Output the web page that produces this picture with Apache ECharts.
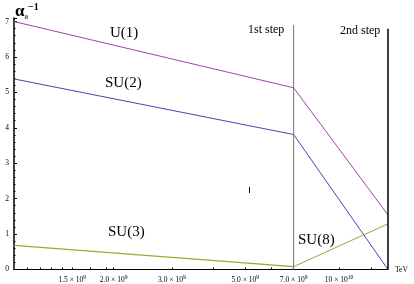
<!DOCTYPE html>
<html><head><meta charset="utf-8">
<script src="https://cdn.jsdelivr.net/npm/echarts@6/dist/echarts.min.js"></script>
<style>html,body{margin:0;padding:0;background:#fff}#c{width:414px;height:284px}</style>
</head><body><div id="c"></div>
<script>
// Energies (log scale axis), break points: start, 1st step, 2nd step
const energies = [1.0e9, 7.0e9, 1.35e10];
const u1 = [7.0, 5.13, 1.54];
const su2 = [5.38, 3.81, 0.0];
const su3Energies = [1.0e9, 7.0e9];
const su3 = [0.68, 0.08];
const su8Energies = [7.0e9, 1.35e10];
const su8 = [0.08, 1.29];
const stepEnergies = [7.0e9, 1.35e10];
const stepTops = [6.9, 6.8];
// x tick labels (mantissa, exponent) and where they sit
const xTickPos = [1.5e9, 2.0e9, 3.0e9, 5.0e9, 7.0e9, 9.6e9];
const xTickMant = ['1.5', '2.0', '3.0', '5.0', '7.0', '10'];
const xTickExp = ['9', '9', '9', '9', '9', '10'];
const xMinorTicks = [1.1e9,1.2e9,1.3e9,1.4e9,1.7e9,1.9e9,4.0e9,6.0e9,1.2e10];
const yTicks = [0,1,2,3,4,5,6,7];

const L = Math.log10;
const pairs = (xs, ys) => xs.map((x, i) => [L(x), ys[i]]);
const SERIF = '"Liberation Serif", "DejaVu Serif", serif';

const chart = echarts.init(document.getElementById('c'));
const labelPos = xTickPos.map(L);
const tickPos = xTickPos.concat(xMinorTicks).map(L);

chart.setOption({
  animation: false,
  grid: { left: 14, right: 26, top: 18, bottom: 14.5, containLabel: false },
  xAxis: {
    type: 'value', min: L(1.0e9), max: L(1.35e10),
    axisLine: { show: true, onZero: false, lineStyle: { color: '#000', width: 1 } },
    splitLine: { show: false },
    axisTick: { show: true, inside: true, length: 2, lineStyle: { color: '#000' }, customValues: tickPos },
    axisLabel: {
      show: true, customValues: labelPos, margin: 5,
      formatter: function (v) {
        let k = 0, best = 1e9;
        labelPos.forEach((p, i) => { if (Math.abs(p - v) < best) { best = Math.abs(p - v); k = i; } });
        return xTickMant[k] + ' × 10{s|' + xTickExp[k] + '}';
      },
      fontFamily: SERIF, fontSize: 7.5, color: '#000',
      rich: { s: { fontSize: 5.5, verticalAlign: 'top', padding: [0, 0, 5, 0], fontFamily: SERIF, color: '#000' } }
    }
  },
  yAxis: {
    type: 'value', min: 0, max: 7.1, interval: 1,
    axisLine: { show: true, lineStyle: { color: '#000', width: 1.5 } },
    splitLine: { show: false },
    axisTick: { show: true, inside: true, length: 3, lineStyle: { color: '#000' } },
    minorTick: { show: true, splitNumber: 5, length: 1.5, lineStyle: { color: '#000' } },
    axisLabel: {
      margin: 5, fontFamily: SERIF, fontSize: 7.5, color: '#000',
      formatter: v => (yTicks.indexOf(v) >= 0 ? String(v) : '')
    }
  },
  series: [
    { type: 'line', data: pairs(energies, u1), symbol: 'none', lineStyle: { color: '#a33fab', width: 1 } },
    { type: 'line', data: pairs(energies, su2), symbol: 'none', lineStyle: { color: '#4646bb', width: 1 } },
    { type: 'line', data: pairs(su3Energies, su3), symbol: 'none', lineStyle: { color: '#a3a335', width: 1.2 } },
    { type: 'line', data: pairs(su8Energies, su8), symbol: 'none', lineStyle: { color: '#a3a335', width: 1 } },
    { type: 'line', data: [[L(stepEnergies[0]), 0], [L(stepEnergies[0]), stepTops[0]]], symbol: 'none', lineStyle: { color: '#777', width: 1 } },
    { type: 'line', data: [[L(stepEnergies[1]), 0], [L(stepEnergies[1]), stepTops[1]]], symbol: 'none', lineStyle: { color: '#000', width: 1.5 } }
  ],
  graphic: [
    { type: 'text', left: 110, top: 26, style: { text: 'U(1)', font: '15px ' + SERIF, fill: '#000' } },
    { type: 'text', left: 105, top: 76, style: { text: 'SU(2)', font: '15px ' + SERIF, fill: '#000' } },
    { type: 'text', left: 108, top: 225, style: { text: 'SU(3)', font: '15px ' + SERIF, fill: '#000' } },
    { type: 'text', left: 298, top: 233, style: { text: 'SU(8)', font: '15px ' + SERIF, fill: '#000' } },
    { type: 'text', left: 248, top: 24, style: { text: '1st step', font: '12px ' + SERIF, fill: '#000' } },
    { type: 'text', left: 340, top: 25, style: { text: '2nd step', font: '12px ' + SERIF, fill: '#000' } },
    { type: 'text', left: 395, top: 266, style: { text: 'TeV', font: '7.5px ' + SERIF, fill: '#000' } },
    { type: 'text', left: 15, top: 2, style: {
        text: '{a|α}{b|a}{c|−1}', fill: '#000',
        rich: {
          a: { font: 'bold 17px ' + SERIF, fill: '#000' },
          b: { font: '8px ' + SERIF, fill: '#000', verticalAlign: 'bottom', padding: [9, 0, 0, 0] },
          c: { font: 'bold 10px ' + SERIF, fill: '#000', verticalAlign: 'top', padding: [0, 0, 9, 0] }
        } } },
    { type: 'rect', shape: { x: 249, y: 187, width: 1, height: 6 }, style: { fill: '#000' } }
  ]
});
</script></body></html>
